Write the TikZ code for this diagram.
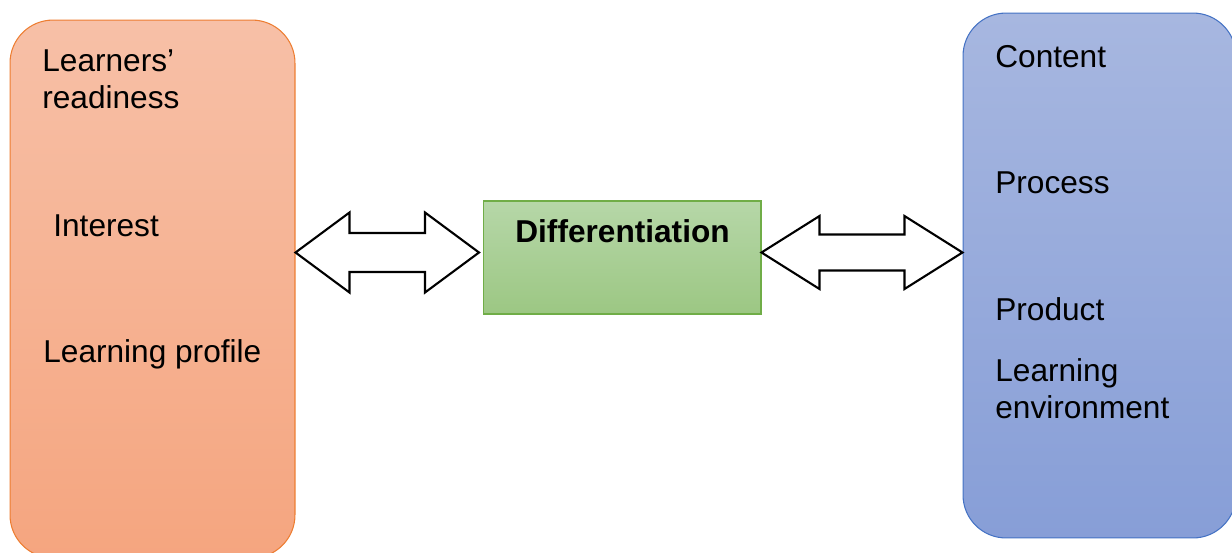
\documentclass[tikz,border=0pt]{standalone}
\usepackage{fontspec}
\setmainfont{Liberation Sans}
\usetikzlibrary{calc}

\definecolor{learnerTop}{HTML}{F7C0A7}
\definecolor{learnerBot}{HTML}{F5A57F}
\definecolor{learnerLine}{HTML}{ED7D31}
\definecolor{diffTop}{HTML}{B6D7A8}
\definecolor{diffBot}{HTML}{9CC783}
\definecolor{diffLine}{HTML}{70AD47}
\definecolor{areaTop}{HTML}{A7B7E0}
\definecolor{areaBot}{HTML}{879ED7}
\definecolor{areaLine}{HTML}{4472C4}

\tikzset{
    sidebox/.style={rectangle, rounded corners=0.86cm, line width=0.6pt, inner sep=0pt},
    midbox/.style={rectangle, line width=0.6pt, inner sep=0pt},
    lbl/.style={anchor=base west, inner sep=0pt, align=left,
                font=\fontsize{18pt}{20.6pt}\selectfont},
    dblarrow/.style={draw=black, line width=1.2pt, fill=white, line join=miter},
}

\begin{document}
\begin{tikzpicture}[x=0.02cm,y=-0.02cm]

    \useasboundingbox (0,0) rectangle (1232,552);
    \clip (0,0) rectangle (1232,552);

    % Boxes
    % -----
    \node[sidebox, draw=learnerLine, top color=learnerTop, bottom color=learnerBot,
          minimum width=5.7cm, minimum height=10.76cm] (learner) at (152.5,289) {};
    \node[midbox, draw=diffLine, top color=diffTop, bottom color=diffBot,
          minimum width=5.56cm, minimum height=2.26cm] (diff) at (622,257.5) {};
    \node[sidebox, draw=areaLine, top color=areaTop, bottom color=areaBot,
          minimum width=5.46cm, minimum height=10.5cm] (area) at (1099.5,275.5) {};

    % Left Texts (base = last line)
    % -----------------------------
    \node[lbl] (readiness) at (42,108) {Learners’\\readiness};
    \node[lbl] (interest)  at (53,236) {Interest};
    \node[lbl] (profile)   at (43,362) {Learning profile};

    % Middle Text
    % -----------
    \node[lbl, font=\fontsize{18pt}{20.6pt}\selectfont\bfseries] (difftext) at (515,242) {Differentiation};

    % Right Texts
    % -----------
    \node[lbl] (content)     at (995,67)  {Content};
    \node[lbl] (process)     at (995,193) {Process};
    \node[lbl] (product)     at (995,320) {Product};
    \node[lbl] (environment) at (995,418) {Learning\\environment};

    % Arrow Tips
    % ----------
    \coordinate (a1l) at (learner.east |- 0,252.5);
    \coordinate (a1r) at (479,252.5);
    \coordinate (a2l) at (diff.east |- 0,252.5);
    \coordinate (a2r) at (area.west |- 0,252.5);

    % Draw Arrows
    % -----------
    \draw[dblarrow] (a1l) -- ($(a1l)+(54,-40)$) -- ($(a1l)+(54,-19.5)$)
        -- ($(a1r)+(-54,-19.5)$) -- ($(a1r)+(-54,-40)$) -- (a1r)
        -- ($(a1r)+(-54,40)$) -- ($(a1r)+(-54,19.5)$)
        -- ($(a1l)+(54,19.5)$) -- ($(a1l)+(54,40)$) -- cycle;
    \draw[dblarrow] (a2l) -- ($(a2l)+(58,-36.5)$) -- ($(a2l)+(58,-18)$)
        -- ($(a2r)+(-58,-18)$) -- ($(a2r)+(-58,-36.5)$) -- (a2r)
        -- ($(a2r)+(-58,36.5)$) -- ($(a2r)+(-58,18)$)
        -- ($(a2l)+(58,18)$) -- ($(a2l)+(58,36.5)$) -- cycle;

\end{tikzpicture}
\end{document}
